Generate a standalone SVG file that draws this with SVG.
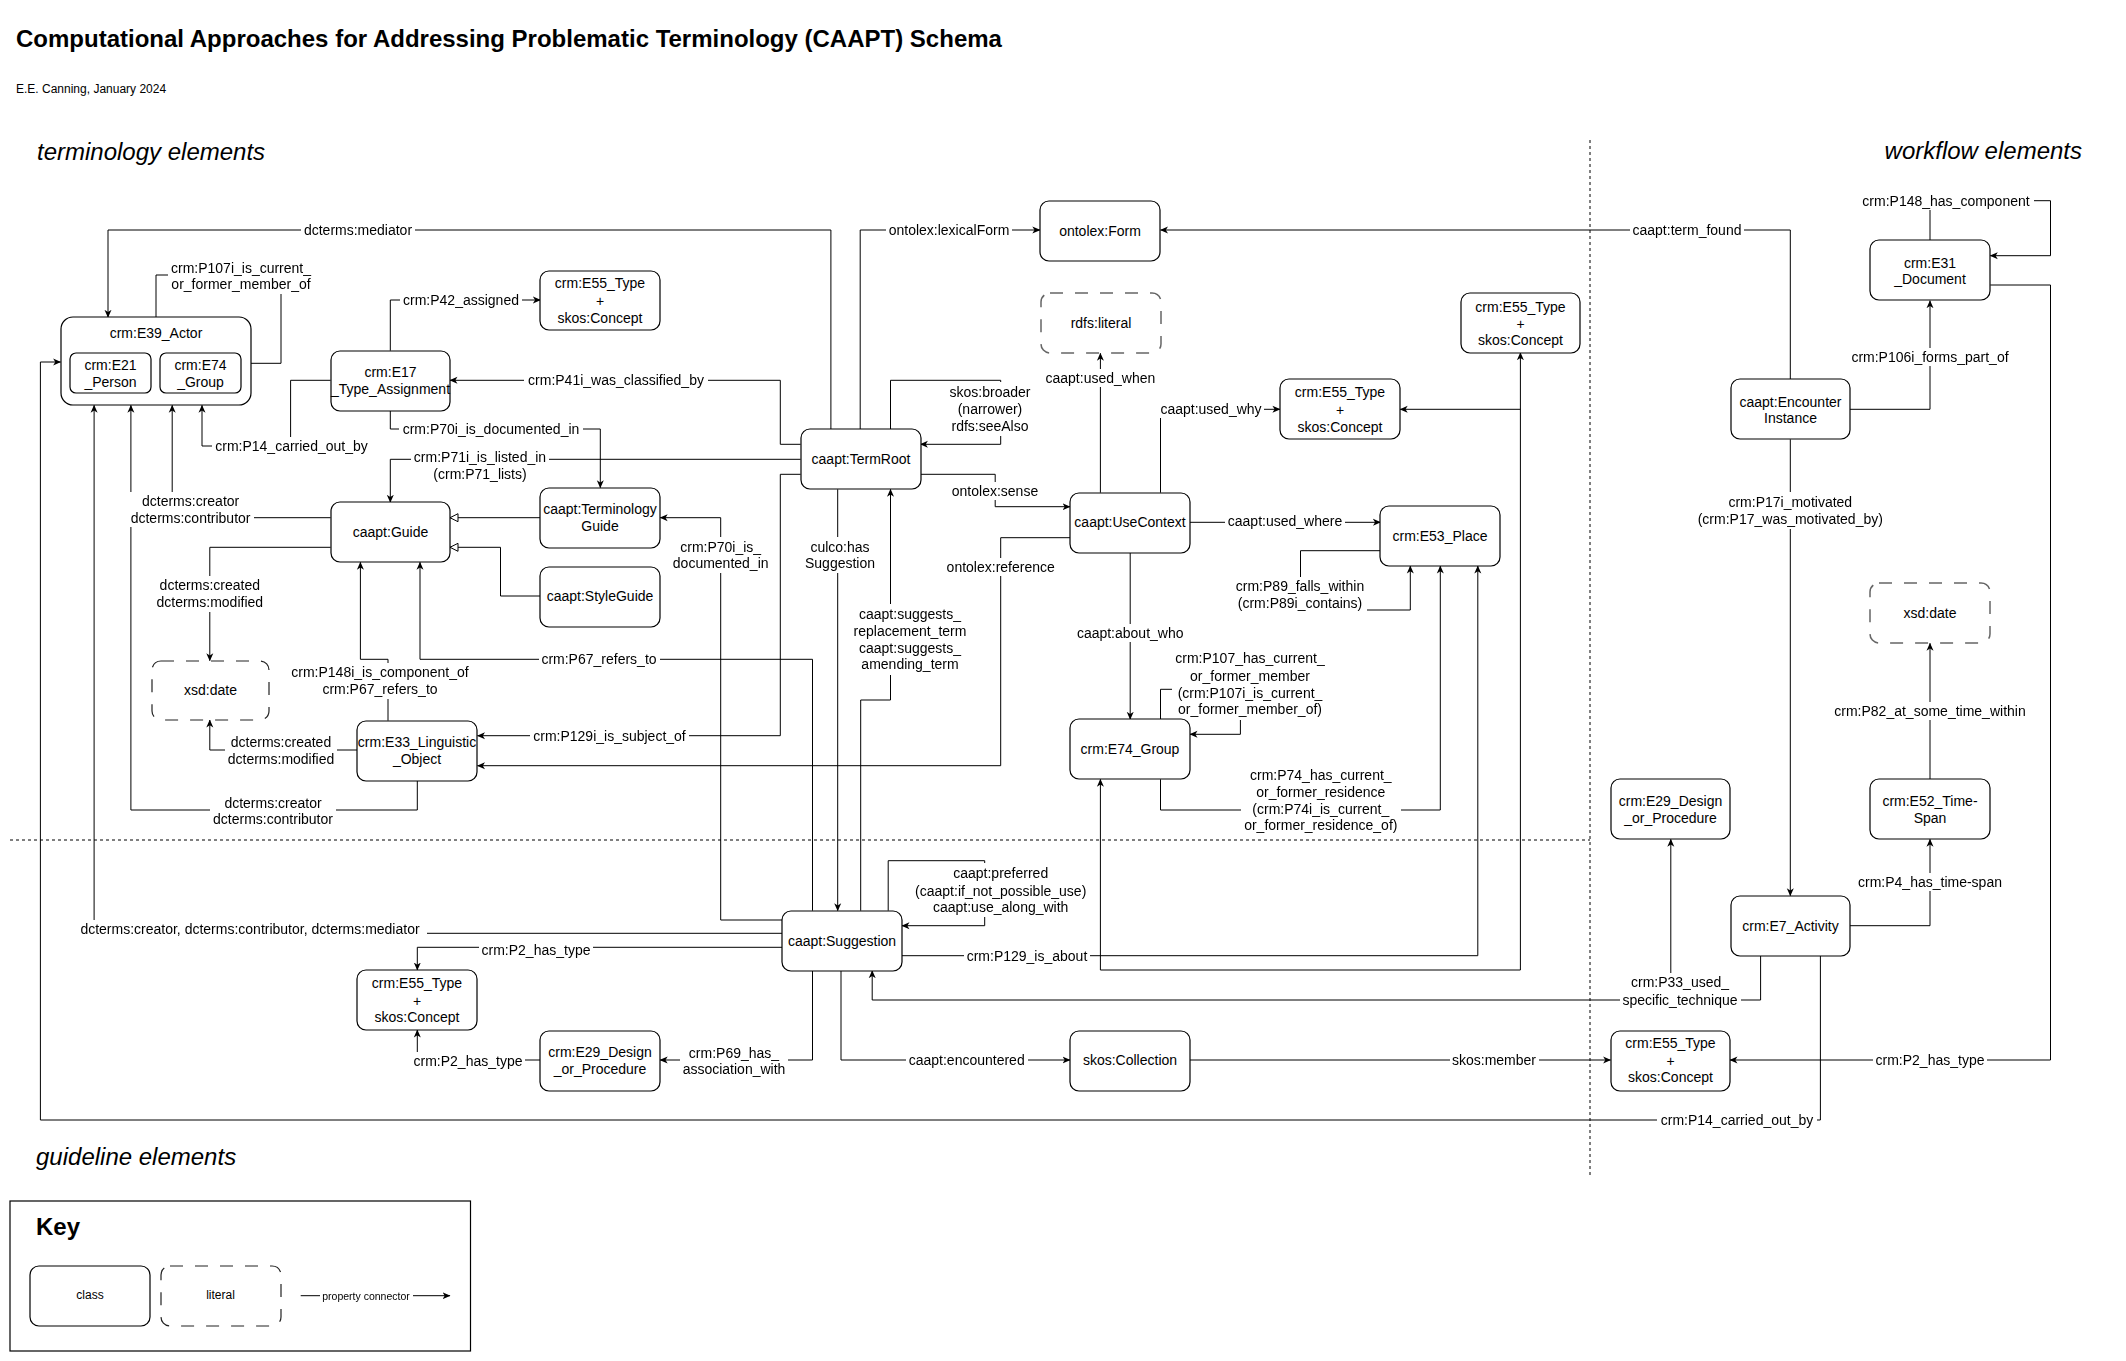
<svg xmlns="http://www.w3.org/2000/svg" width="2126" height="1361" viewBox="0 0 2126 1361">
<style>
.n{fill:#fff;stroke:#000;stroke-width:1.2}
.d{fill:#fff;stroke:#666;stroke-width:1.5;stroke-dasharray:13 12}
.dk{fill:#fff;stroke:#222;stroke-width:1.2;stroke-dasharray:13 12}
.e{fill:none;stroke:#000;stroke-width:1}
.div{fill:none;stroke:#000;stroke-width:1;stroke-dasharray:3 3}
text{font-family:"Liberation Sans",Arial,Helvetica,sans-serif;fill:#000}
.t{font-size:14px;text-anchor:middle}
.l{font-size:14px;text-anchor:middle}
.h{font-size:24px;font-style:italic}
</style>
<defs>
<marker id="a" viewBox="0 0 8 8" refX="7.5" refY="4" markerWidth="8" markerHeight="8" markerUnits="userSpaceOnUse" orient="auto"><path d="M0,0.5 L8,4 L0,7.5 L2.2,4 Z" fill="#000"/></marker>
<marker id="g" viewBox="0 0 9 9" refX="8.5" refY="4.5" markerWidth="9" markerHeight="9" markerUnits="userSpaceOnUse" orient="auto"><path d="M0.5,0.5 L8.5,4.5 L0.5,8.5 Z" fill="#fff" stroke="#000" stroke-width="1"/></marker>
<filter id="bg" x="-0.02" y="-0.03" width="1.04" height="1.06" color-interpolation-filters="sRGB"><feFlood flood-color="#fff"/><feComposite in="SourceGraphic" operator="over"/></filter>
</defs>
<rect width="2126" height="1361" fill="#fff"/>

<g id="headings">
<text x="16" y="47" font-size="24" font-weight="bold">Computational Approaches for Addressing Problematic Terminology (CAAPT) Schema</text>
<text x="16" y="93" font-size="12">E.E. Canning, January 2024</text>
<text class="h" x="37" y="160">terminology elements</text>
<text class="h" x="2082" y="159" text-anchor="end">workflow elements</text>
<text class="h" x="36" y="1165">guideline elements</text>
</g>

<g id="dividers">
<path class="div" d="M1590,140 V1175"/>
<path class="div" d="M10,840 H1590"/>
</g>

<g id="connectors">
<g id="edge-lines">
<path class="e" d="M830.9,429.3 V230 H108 V317.3" marker-end="url(#a)"/>
<path class="e" d="M860.2,429.3 V230 H1039.8" marker-end="url(#a)"/>
<path class="e" d="M890.5,429.3 V380.3 H1000.7 V444.3 H920.4" marker-end="url(#a)"/>
<path class="e" d="M800.6,444.3 H780.3 V380.3 H450" marker-end="url(#a)"/>
<path class="e" d="M800.6,459.3 H390.3 V502.3" marker-end="url(#a)"/>
<path class="e" d="M800.6,474.3 H780.3 V735.7 H477.5" marker-end="url(#a)"/>
<path class="e" d="M920.4,474.3 H995.2 V506.7 H1070" marker-end="url(#a)"/>
<path class="e" d="M837.7,489.3 V910.7" marker-end="url(#a)"/>
<path class="e" d="M860.7,910.7 V700 H890.5 V489.3" marker-end="url(#a)"/>
<path class="e" d="M782.6,920 H720.7 V517.7 H660.2" marker-end="url(#a)"/>
<path class="e" d="M812.5,910.7 V659.3 H420 V562.3" marker-end="url(#a)"/>
<path class="e" d="M782.6,933.3 H94.1 V405.3" marker-end="url(#a)"/>
<path class="e" d="M782.6,947.3 H417.3 V970" marker-end="url(#a)"/>
<path class="e" d="M888.2,910.7 V860.7 H984.7 V925.7 H902" marker-end="url(#a)"/>
<path class="e" d="M902,955.7 H1477.8 V566" marker-end="url(#a)"/>
<path class="e" d="M812.5,970.7 V1060 H660.2" marker-end="url(#a)"/>
<path class="e" d="M841,970.7 V1060 H1070" marker-end="url(#a)"/>
<path class="e" d="M1190,1060 H1610.6" marker-end="url(#a)"/>
<path class="e" d="M540.4,1060 H417.3 V1030" marker-end="url(#a)"/>
<path class="e" d="M330.6,380.3 H290.6 V446 H202 V405.3" marker-end="url(#a)"/>
<path class="e" d="M330.6,517.7 H172.2 V405.3" marker-end="url(#a)"/>
<path class="e" d="M330.6,547.3 H209.8 V660.7" marker-end="url(#a)"/>
<path class="e" d="M390.3,350.7 V300 H540.4" marker-end="url(#a)"/>
<path class="e" d="M390.3,410.7 V429 H600.3 V487.7" marker-end="url(#a)"/>
<path class="e" d="M540.4,517.7 H450" marker-end="url(#g)"/>
<path class="e" d="M540.4,596 H500.5 V547.3 H450" marker-end="url(#g)"/>
<path class="e" d="M388,720.7 V659.3 H360.4 V562.3" marker-end="url(#a)"/>
<path class="e" d="M357.2,750 H209.8 V720" marker-end="url(#a)"/>
<path class="e" d="M417.3,780.7 V810 H130.9 V405.3" marker-end="url(#a)"/>
<path class="e" d="M156,317.3 V275 H281 V363.3 H240.6" marker-end="url(#a)"/>
<path class="e" d="M1070,537.7 H1000.7 V765.7 H477.5" marker-end="url(#a)"/>
<path class="e" d="M1100.4,492.7 V353.3" marker-end="url(#a)"/>
<path class="e" d="M1160.5,492.7 V409.3 H1279.9" marker-end="url(#a)"/>
<path class="e" d="M1190,522.3 H1380.4" marker-end="url(#a)"/>
<path class="e" d="M1130.2,552.3 V719.3" marker-end="url(#a)"/>
<path class="e" d="M1160.5,719.3 V689.3 H1240.4 V734.3 H1190" marker-end="url(#a)"/>
<path class="e" d="M1160.5,779.3 V810 H1440.3 V566" marker-end="url(#a)"/>
<path class="e" d="M1380.4,550.7 H1300.5 V610 H1410.3 V566" marker-end="url(#a)"/>
<path class="e" d="M1520.4,970 V352.7" marker-end="url(#a)"/>
<path class="e" d="M1520.4,409.3 H1400.2" marker-end="url(#a)"/>
<path class="e" d="M1520.4,970 H1100.4 V779.3" marker-end="url(#a)"/>
<path class="e" d="M1790.3,379.3 V230 H1160.5" marker-end="url(#a)"/>
<path class="e" d="M1930,240 V200.7 H2050.5 V255.7 H1990.3" marker-end="url(#a)"/>
<path class="e" d="M1850,409.3 H1930 V300.7" marker-end="url(#a)"/>
<path class="e" d="M1790.3,439.3 V895.7" marker-end="url(#a)"/>
<path class="e" d="M1930,779.3 V643.3" marker-end="url(#a)"/>
<path class="e" d="M1850,925.7 H1930 V839.3" marker-end="url(#a)"/>
<path class="e" d="M1760.6,955.7 V1000 H872.2 V970.7" marker-end="url(#a)"/>
<path class="e" d="M1670.8,1000 V839.3" marker-end="url(#a)"/>
<path class="e" d="M1990.3,285 H2050.5 V1060 H1730" marker-end="url(#a)"/>
<path class="e" d="M1820.4,955.7 V1120 H40.4 V362 H60.6" marker-end="url(#a)"/>
</g>
<g id="edge-labels">
<text class="l" filter="url(#bg)" x="358" y="235">dcterms:mediator</text>
<text class="l" filter="url(#bg)" x="241" y="272.7">crm:P107i_is_current_<tspan x="241" y="289.3">or_former_member_of</tspan></text>
<text class="l" filter="url(#bg)" x="461" y="305">crm:P42_assigned</text>
<text class="l" filter="url(#bg)" x="616" y="385.3">crm:P41i_was_classified_by</text>
<text class="l" filter="url(#bg)" x="491" y="434">crm:P70i_is_documented_in</text>
<text class="l" filter="url(#bg)" x="291.5" y="451">crm:P14_carried_out_by</text>
<text class="l" filter="url(#bg)" x="480" y="462.3">crm:P71i_is_listed_in<tspan x="480" y="479">(crm:P71_lists)</tspan></text>
<text class="l" filter="url(#bg)" x="190.6" y="506">dcterms:creator<tspan x="190.6" y="522.7">dcterms:contributor</tspan></text>
<text class="l" filter="url(#bg)" x="209.8" y="590">dcterms:created<tspan x="209.8" y="607.3">dcterms:modified</tspan></text>
<text class="l" filter="url(#bg)" x="599" y="664.3">crm:P67_refers_to</text>
<text class="l" filter="url(#bg)" x="380" y="677.3">crm:P148i_is_component_of<tspan x="380" y="694.3">crm:P67_refers_to</tspan></text>
<text class="l" filter="url(#bg)" x="281" y="747.3">dcterms:created<tspan x="281" y="764.3">dcterms:modified</tspan></text>
<text class="l" filter="url(#bg)" x="609.5" y="740.7">crm:P129i_is_subject_of</text>
<text class="l" filter="url(#bg)" x="273" y="807.7">dcterms:creator<tspan x="273" y="824.3">dcterms:contributor</tspan></text>
<text class="l" filter="url(#bg)" x="250" y="934.3">dcterms:creator, dcterms:contributor, dcterms:mediator</text>
<text class="l" filter="url(#bg)" x="536" y="955">crm:P2_has_type</text>
<text class="l" filter="url(#bg)" x="468" y="1065.7">crm:P2_has_type</text>
<text class="l" filter="url(#bg)" x="734" y="1057.7">crm:P69_has_<tspan x="734" y="1074.3">association_with</tspan></text>
<text class="l" filter="url(#bg)" x="949" y="235">ontolex:lexicalForm</text>
<text class="l" filter="url(#bg)" x="990" y="397.3">skos:broader<tspan x="990" y="414.3">(narrower)</tspan><tspan x="990" y="431">rdfs:seeAlso</tspan></text>
<text class="l" filter="url(#bg)" x="995" y="496">ontolex:sense</text>
<text class="l" filter="url(#bg)" x="720.7" y="551.7">crm:P70i_is_<tspan x="720.7" y="568.3">documented_in</tspan></text>
<text class="l" filter="url(#bg)" x="840" y="551.7">culco:has<tspan x="840" y="568.3">Suggestion</tspan></text>
<text class="l" filter="url(#bg)" x="910" y="619.3">caapt:suggests_<tspan x="910" y="636">replacement_term</tspan><tspan x="910" y="653.3">caapt:suggests_</tspan><tspan x="910" y="669.3">amending_term</tspan></text>
<text class="l" filter="url(#bg)" x="1000.7" y="572.3">ontolex:reference</text>
<text class="l" filter="url(#bg)" x="1100.4" y="383.3">caapt:used_when</text>
<text class="l" filter="url(#bg)" x="1211" y="414.3">caapt:used_why</text>
<text class="l" filter="url(#bg)" x="1285" y="526">caapt:used_where</text>
<text class="l" filter="url(#bg)" x="1130.2" y="637.7">caapt:about_who</text>
<text class="l" filter="url(#bg)" x="1250" y="663.3">crm:P107_has_current_<tspan x="1250" y="680.7">or_former_member</tspan><tspan x="1250" y="697.7">(crm:P107i_is_current_</tspan><tspan x="1250" y="714">or_former_member_of)</tspan></text>
<text class="l" filter="url(#bg)" x="1300" y="591">crm:P89_falls_within<tspan x="1300" y="608.3">(crm:P89i_contains)</tspan></text>
<text class="l" filter="url(#bg)" x="1320.8" y="780.3">crm:P74_has_current_<tspan x="1320.8" y="797.3">or_former_residence</tspan><tspan x="1320.8" y="814.3">(crm:P74i_is_current_</tspan><tspan x="1320.8" y="830">or_former_residence_of)</tspan></text>
<text class="l" filter="url(#bg)" x="1000.7" y="878.3">caapt:preferred<tspan x="1000.7" y="895.7">(caapt:if_not_possible_use)</tspan><tspan x="1000.7" y="912.3">caapt:use_along_with</tspan></text>
<text class="l" filter="url(#bg)" x="1027" y="960.7">crm:P129_is_about</text>
<text class="l" filter="url(#bg)" x="966.7" y="1065">caapt:encountered</text>
<text class="l" filter="url(#bg)" x="1494" y="1065">skos:member</text>
<text class="l" filter="url(#bg)" x="1687" y="235">caapt:term_found</text>
<text class="l" filter="url(#bg)" x="1946" y="205.7">crm:P148_has_component</text>
<text class="l" filter="url(#bg)" x="1930" y="362.3">crm:P106i_forms_part_of</text>
<text class="l" filter="url(#bg)" x="1790.3" y="506.7">crm:P17i_motivated<tspan x="1790.3" y="524.3">(crm:P17_was_motivated_by)</tspan></text>
<text class="l" filter="url(#bg)" x="1930" y="716">crm:P82_at_some_time_within</text>
<text class="l" filter="url(#bg)" x="1930" y="886.7">crm:P4_has_time-span</text>
<text class="l" filter="url(#bg)" x="1680" y="987.3">crm:P33_used_<tspan x="1680" y="1005">specific_technique</tspan></text>
<text class="l" filter="url(#bg)" x="1930" y="1065">crm:P2_has_type</text>
<text class="l" filter="url(#bg)" x="1737" y="1125">crm:P14_carried_out_by</text>
</g>
</g>

<g id="nodes">
<g id="E39_Actor"><rect class="n" x="61" y="317" width="190" height="88" rx="12"/><text class="t" x="156" y="338.3">crm:E39_Actor</text></g>
<g id="E21_Person"><rect class="n" x="70" y="353" width="81" height="40" rx="6"/><text class="t" x="110.5" y="370">crm:E21<tspan x="110.5" y="387">_Person</tspan></text></g>
<g id="E74_Group_inner"><rect class="n" x="160" y="353" width="81" height="40" rx="6"/><text class="t" x="200.5" y="370">crm:E74<tspan x="200.5" y="387">_Group</tspan></text></g>
<g id="E17_Type_Assignment"><rect class="n" x="331" y="351" width="119" height="60" rx="9"/><text class="t" x="390.5" y="377">crm:E17<tspan x="390.5" y="394">_Type_Assignment</tspan></text></g>
<g id="E55_Type_a"><rect class="n" x="540" y="271" width="120" height="59" rx="9"/><text class="t" x="600" y="288">crm:E55_Type<tspan x="600" y="306">+</tspan><tspan x="600" y="323">skos:Concept</tspan></text></g>
<g id="Guide"><rect class="n" x="331" y="502" width="119" height="60" rx="9"/><text class="t" x="390.5" y="537">caapt:Guide</text></g>
<g id="TerminologyGuide"><rect class="n" x="540" y="488" width="120" height="60" rx="9"/><text class="t" x="600" y="514">caapt:Terminology<tspan x="600" y="531">Guide</tspan></text></g>
<g id="StyleGuide"><rect class="n" x="540" y="567" width="120" height="60" rx="9"/><text class="t" x="600" y="601">caapt:StyleGuide</text></g>
<g id="xsd_date_a"><rect class="dk" x="152" y="661" width="117" height="59" rx="9"/><text class="t" x="210.5" y="695">xsd:date</text></g>
<g id="E33_Linguistic_Object"><rect class="n" x="357" y="721" width="120" height="60" rx="9"/><text class="t" x="417" y="747">crm:E33_Linguistic<tspan x="417" y="764">_Object</tspan></text></g>
<g id="TermRoot"><rect class="n" x="801" y="429" width="120" height="60" rx="9"/><text class="t" x="861" y="464">caapt:TermRoot</text></g>
<g id="ontolex_Form"><rect class="n" x="1040" y="201" width="120" height="60" rx="9"/><text class="t" x="1100" y="235.5">ontolex:Form</text></g>
<g id="rdfs_literal"><rect class="d" x="1041" y="293" width="120" height="60" rx="9"/><text class="t" x="1101" y="328">rdfs:literal</text></g>
<g id="E55_Type_b"><rect class="n" x="1280" y="379" width="120" height="60" rx="9"/><text class="t" x="1340" y="397">crm:E55_Type<tspan x="1340" y="415">+</tspan><tspan x="1340" y="431.5">skos:Concept</tspan></text></g>
<g id="E55_Type_c"><rect class="n" x="1461" y="293" width="119" height="60" rx="9"/><text class="t" x="1520.5" y="311.5">crm:E55_Type<tspan x="1520.5" y="329">+</tspan><tspan x="1520.5" y="345">skos:Concept</tspan></text></g>
<g id="UseContext"><rect class="n" x="1070" y="493" width="120" height="60" rx="9"/><text class="t" x="1130" y="527">caapt:UseContext</text></g>
<g id="E53_Place"><rect class="n" x="1380" y="506" width="120" height="60" rx="9"/><text class="t" x="1440" y="541">crm:E53_Place</text></g>
<g id="E74_Group"><rect class="n" x="1070" y="719" width="120" height="60" rx="9"/><text class="t" x="1130" y="754">crm:E74_Group</text></g>
<g id="Suggestion"><rect class="n" x="782" y="911" width="120" height="60" rx="9"/><text class="t" x="842" y="945.5">caapt:Suggestion</text></g>
<g id="E55_Type_d"><rect class="n" x="357" y="970" width="120" height="60" rx="9"/><text class="t" x="417" y="988">crm:E55_Type<tspan x="417" y="1006">+</tspan><tspan x="417" y="1022">skos:Concept</tspan></text></g>
<g id="E29_Design_a"><rect class="n" x="540" y="1031" width="120" height="60" rx="9"/><text class="t" x="600" y="1057">crm:E29_Design<tspan x="600" y="1074">_or_Procedure</tspan></text></g>
<g id="skos_Collection"><rect class="n" x="1070" y="1031" width="120" height="60" rx="9"/><text class="t" x="1130" y="1065">skos:Collection</text></g>
<g id="E55_Type_e"><rect class="n" x="1611" y="1031" width="119" height="60" rx="9"/><text class="t" x="1670.5" y="1048">crm:E55_Type<tspan x="1670.5" y="1066">+</tspan><tspan x="1670.5" y="1082">skos:Concept</tspan></text></g>
<g id="E29_Design_b"><rect class="n" x="1611" y="779" width="119" height="60" rx="9"/><text class="t" x="1670.5" y="806">crm:E29_Design<tspan x="1670.5" y="823">_or_Procedure</tspan></text></g>
<g id="EncounterInstance"><rect class="n" x="1731" y="379" width="119" height="60" rx="9"/><text class="t" x="1790.5" y="406.5">caapt:Encounter<tspan x="1790.5" y="423">Instance</tspan></text></g>
<g id="E31_Document"><rect class="n" x="1870" y="240" width="120" height="60" rx="9"/><text class="t" x="1930" y="267.5">crm:E31<tspan x="1930" y="284">_Document</tspan></text></g>
<g id="xsd_date_b"><rect class="d" x="1870" y="583" width="120" height="60" rx="9"/><text class="t" x="1930" y="618">xsd:date</text></g>
<g id="E52_Time-Span"><rect class="n" x="1870" y="779" width="120" height="60" rx="9"/><text class="t" x="1930" y="806">crm:E52_Time-<tspan x="1930" y="823">Span</tspan></text></g>
<g id="E7_Activity"><rect class="n" x="1731" y="896" width="119" height="60" rx="9"/><text class="t" x="1790.5" y="930.5">crm:E7_Activity</text></g>
</g>

<g id="key">
<rect x="10" y="1201" width="460.5" height="150" fill="none" stroke="#000" stroke-width="1.2"/>
<text x="36" y="1235" font-size="24" font-weight="bold">Key</text>
<g id="key_class"><rect class="n" x="30" y="1266" width="120" height="60" rx="9"/><text x="90" y="1299" font-size="12" text-anchor="middle">class</text></g>
<g id="key_literal"><rect class="dk" x="161" y="1266" width="120" height="60" rx="9"/><text x="220.5" y="1299" font-size="12" text-anchor="middle">literal</text></g>
<g id="key_connector"><path class="e" d="M300.7,1295.7 H450" marker-end="url(#a)"/><text x="366" y="1299.5" font-size="10.5" text-anchor="middle" filter="url(#bg)">property connector</text></g>
</g>
</svg>
